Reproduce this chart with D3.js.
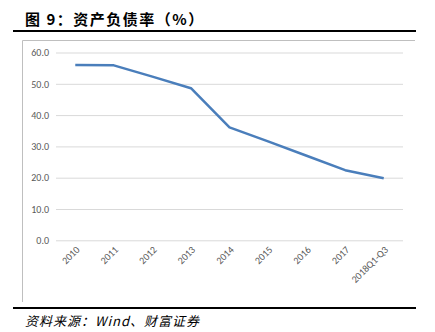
<!DOCTYPE html>
<html><head><meta charset="utf-8">
<script src="https://cdn.jsdelivr.net/npm/d3@7"></script>
<style>body{margin:0;background:#fff}svg{display:block}</style>
</head><body>
<script>
const categories = ["2010","2011","2012","2013","2014","2015","2016","2017","2018Q1-Q3"];
const values = [56.0, 55.9, 52.3, 48.6, 36.1, 31.6, 27.0, 22.4, 19.8];
const yTicks = [0,10,20,30,40,50,60];
const title = "图 9：资产负债率（%）";
const source = "资料来源：Wind、财富证券";

const W = 435, H = 332;
const svg = d3.select("body").append("svg").attr("width", W).attr("height", H);

svg.append("text").attr("x", 25).attr("y", 25)
  .attr("font-family", "'Noto Sans CJK SC'").attr("font-weight", "bold")
  .attr("font-size", 15).attr("letter-spacing", 1.5).attr("fill", "#000").text(title);
svg.append("line").attr("x1", 13).attr("x2", 416).attr("y1", 31).attr("y2", 31)
  .attr("stroke", "#000").attr("stroke-width", 2);
svg.append("line").attr("x1", 13).attr("x2", 416).attr("y1", 308).attr("y2", 308)
  .attr("stroke", "#000").attr("stroke-width", 2);
svg.append("text").attr("x", 25).attr("y", 326)
  .attr("font-family", "'Noto Sans CJK SC'").attr("font-style", "italic")
  .attr("font-size", 13).attr("letter-spacing", 1).attr("fill", "#000").text(source);

// chart frame (top + left)
svg.append("path").attr("d", "M22.5,302 V40.5 H415").attr("fill", "none")
  .attr("stroke", "#bfbfbf").attr("stroke-width", 1);

const x = d3.scaleBand().domain(categories).range([56, 403]);
const y = d3.scaleLinear().domain([0, 60]).range([240.3, 52.5]);

const gy = svg.append("g").attr("transform", "translate(56,0)")
  .call(d3.axisLeft(y).tickValues(yTicks).tickFormat(d3.format(".1f")).tickSize(-347).tickPadding(7));
gy.select(".domain").remove();
gy.selectAll(".tick line").attr("stroke", "#d9d9d9").attr("stroke-width", 1);
gy.selectAll(".tick text").attr("fill", "#595959").attr("font-size", 10)
  .attr("font-family", "Calibri, 'Liberation Sans', sans-serif");

const gx = svg.append("g").attr("transform", "translate(0,240.3)")
  .call(d3.axisBottom(x).tickSize(0).tickPadding(0));
gx.select(".domain").remove();
gx.selectAll(".tick text").attr("fill", "#595959").attr("font-size", 10)
  .attr("font-family", "Calibri, 'Liberation Sans', sans-serif")
  .attr("text-anchor", "end").attr("dy", 0)
  .attr("transform", "translate(5,10) rotate(-45)");

const line = d3.line().x((d, i) => x(categories[i]) + x.bandwidth() / 2).y(d => y(d));
svg.append("path").datum(values).attr("d", line).attr("fill", "none")
  .attr("stroke", "#4a7ebb").attr("stroke-width", 2.5).attr("stroke-linejoin", "round");
</script>
</body></html>
